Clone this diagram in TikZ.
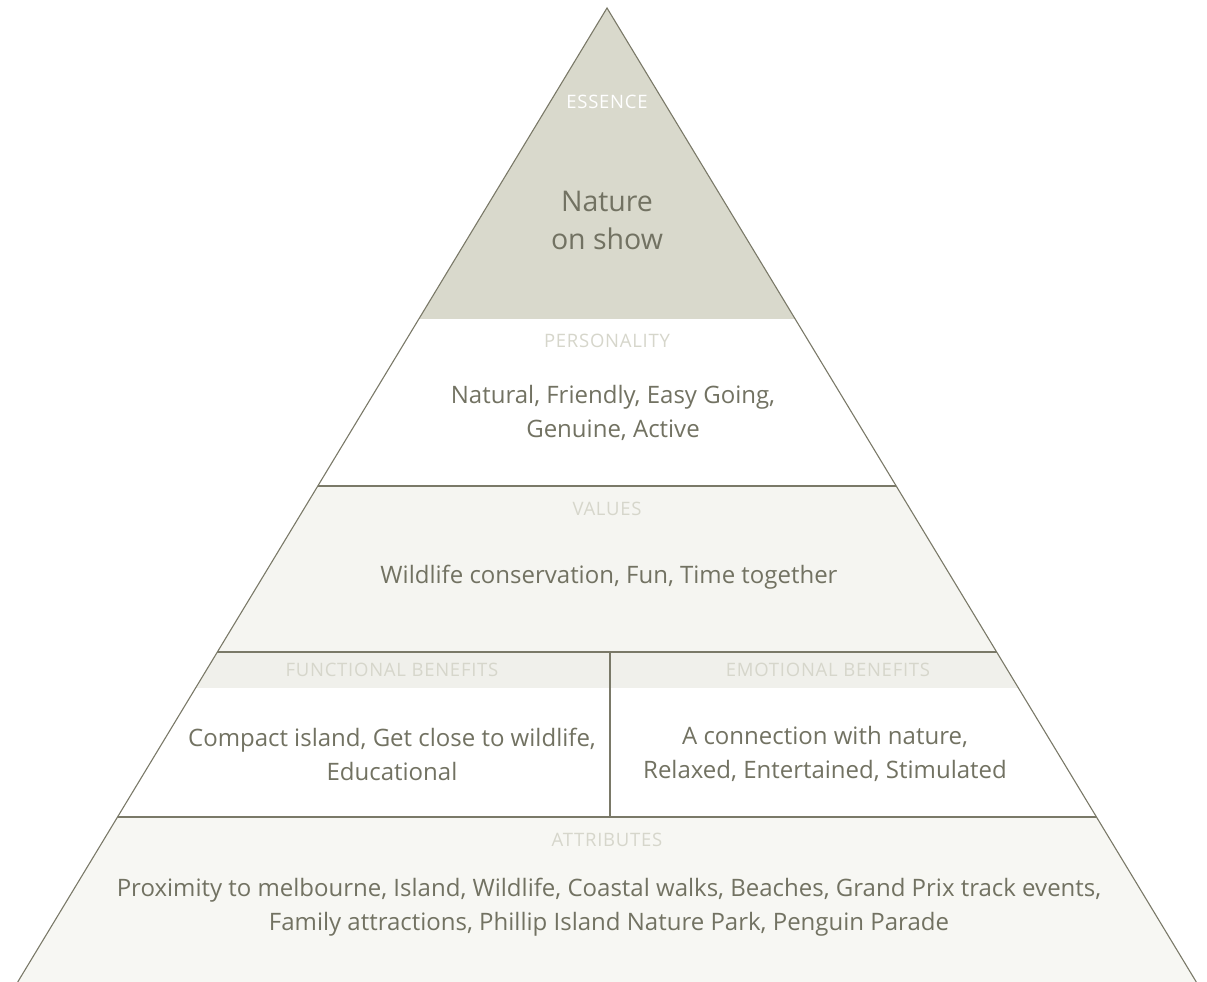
\documentclass[tikz,border=0pt]{standalone}
\usepackage{fontspec}
\setmainfont{Open Sans}
\newfontfamily\lblfont[LetterSpace=4]{Open Sans}
\definecolor{essfill}{RGB}{217,217,204}
\definecolor{lightfill}{RGB}{245,245,241}
\definecolor{headfill}{RGB}{240,240,235}
\definecolor{botfill}{RGB}{247,247,243}
\definecolor{linec}{RGB}{122,121,104}
\definecolor{txtc}{RGB}{114,114,98}
\definecolor{lblc}{RGB}{214,214,203}
\tikzset{
  maintext/.style={text=txtc, font=\fontsize{24}{34}\selectfont, align=center, inner sep=0pt},
  bigtext/.style={text=txtc, font=\fontsize{28.5}{38}\selectfont, align=center, inner sep=0pt},
  lbl/.style={text=lblc, font=\lblfont\fontsize{18.5}{20}\selectfont, inner sep=0pt},
  sepline/.style={draw=linec, line width=2pt},
  sideline/.style={draw=linec, line width=1.1pt}
}
\begin{document}
\begin{tikzpicture}[x=1pt,y=-1pt]
\useasboundingbox (0,0) rectangle (1207,982);
\coordinate (A) at (607,8);
\coordinate (L) at (17.7,982);
\coordinate (R) at (1196.3,982);
\begin{scope}
  \clip (A) -- (L) -- (R) -- cycle;
  \fill[essfill] (0,0) rectangle (1207,319);
  \fill[white] (0,319) rectangle (1207,486);
  \fill[lightfill] (0,486) rectangle (1207,652);
  \fill[headfill] (0,652) rectangle (1207,688);
  \fill[white] (0,688) rectangle (1207,817);
  \fill[botfill] (0,817) rectangle (1207,982);
  \draw[sepline] (0,486) -- (1207,486);
  \draw[sepline] (0,652) -- (1207,652);
  \draw[sepline] (0,817) -- (1207,817);
\end{scope}
\coordinate (vtop) at (610,652);
\coordinate (vbot) at (610,817);
\draw[sepline] (vtop) -- (vbot);
\draw[sideline] (L) -- (A) -- (R);

\node[lbl, text=white] (essl) at (607,102) {ESSENCE};
\node[bigtext] (esst) at (607,220) {Nature\\on show};
\node[lbl] (perl) at (607,341) {PERSONALITY};
\node[maintext] (pert) at (613,413) {Natural, Friendly, Easy Going,\\Genuine, Active};
\node[lbl] (vall) at (607,509) {VALUES};
\node[maintext] (valt) at (609,577) {Wildlife conservation, Fun, Time together};
\node[lbl] (funl) at (392,670) {FUNCTIONAL BENEFITS};
\node[lbl] (emol) at (828,670) {EMOTIONAL BENEFITS};
\node[maintext] (funt) at (392,754) {Compact island, Get close to wildlife,\\Educational};
\node[maintext] (emot) at (825,754) {A connection with nature,\\Relaxed, Entertained, Stimulated};
\node[lbl] (attl) at (607,840) {ATTRIBUTES};
\node[maintext] (attt) at (609,907) {Proximity to melbourne, Island, Wildlife, Coastal walks, Beaches, Grand Prix track events,\\Family attractions, Phillip Island Nature Park, Penguin Parade};
\end{tikzpicture}
\end{document}
